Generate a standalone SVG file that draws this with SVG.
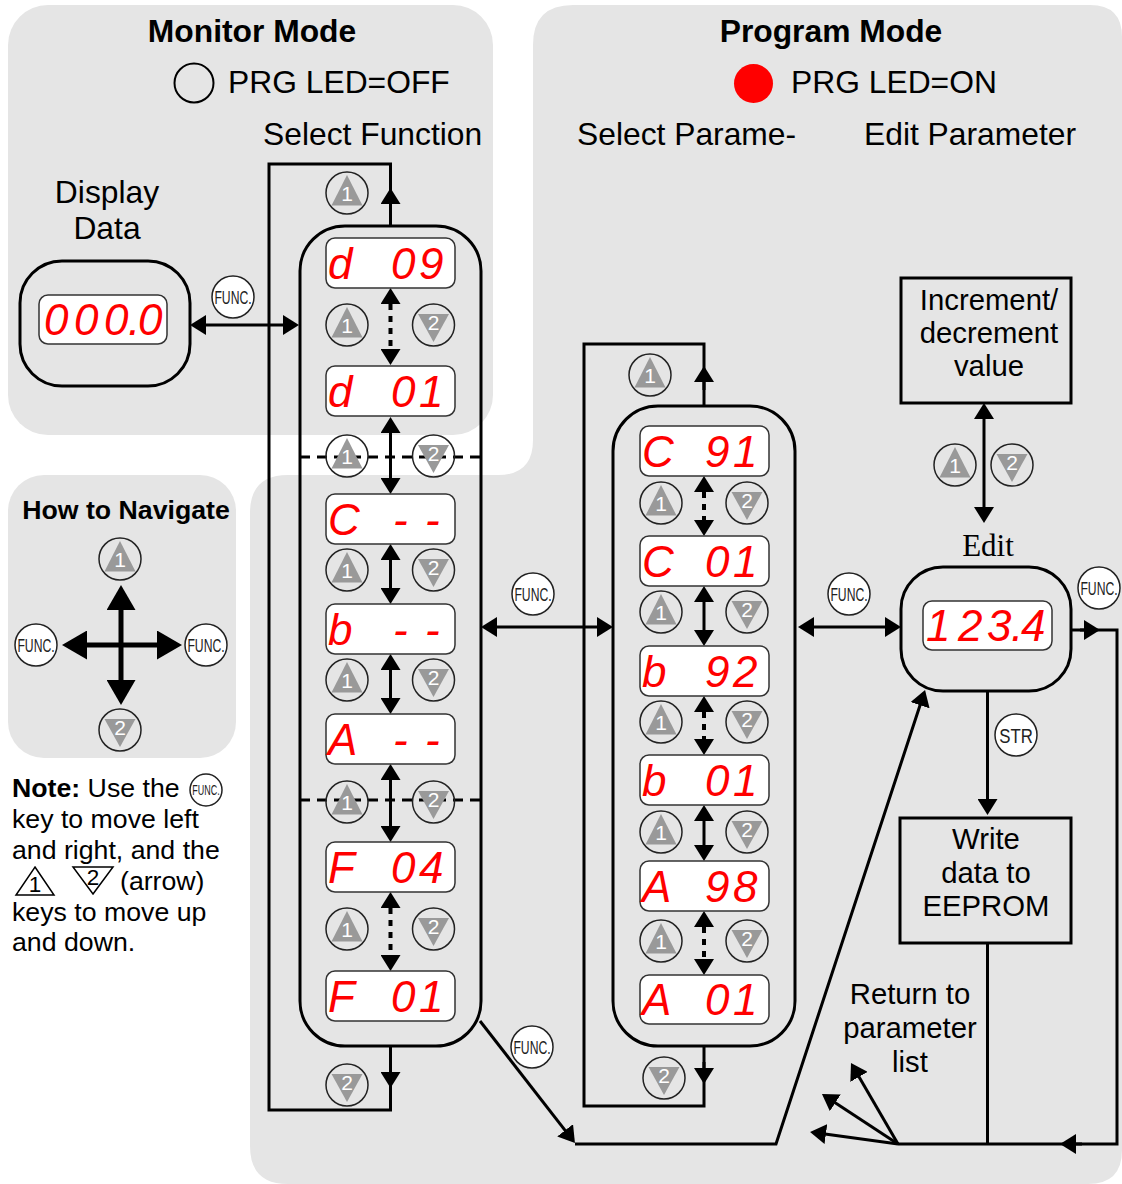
<svg xmlns="http://www.w3.org/2000/svg" width="1122" height="1184" viewBox="0 0 1122 1184">
<style>
text{font-family:"Liberation Sans",Arial,sans-serif;fill:#000}
.bg{fill:#e5e5e5}
.t32{font-size:31.8px}
.t29{font-size:29.3px;text-anchor:middle}
.b{font-weight:bold}
.n{font-size:26.7px}
.c{text-anchor:middle}
.box{fill:none;stroke:#000;stroke-width:3}
.sq{fill:none;stroke:#000;stroke-width:3}
.disp rect{fill:#fff;stroke:#333;stroke-width:1.5}
.disp text{font-size:44px;font-style:italic;fill:#f00}
.k circle{fill:none;stroke:#222;stroke-width:1.5}
.k path{fill:#999}
.k text{fill:#fff;font-size:21px;text-anchor:middle}
.f circle{fill:#fff;stroke:#222;stroke-width:1.5}
.f text{font-size:19px;fill:#222;text-anchor:middle}
.l{fill:none;stroke:#000;stroke-width:3}
.a{marker-end:url(#ah)}
.d{marker-start:url(#ah);marker-end:url(#ah)}
.dot{stroke-dasharray:6 6;stroke-width:4}
.dash{fill:none;stroke:#000;stroke-width:3;stroke-dasharray:10 7}
.nav{fill:none;stroke:#000;stroke-width:5;marker-end:url(#nh)}
</style>
<defs>
<marker id="ah" viewBox="0 0 16 20" refX="12" refY="10" markerWidth="16" markerHeight="20" markerUnits="userSpaceOnUse" orient="auto-start-reverse"><path d="M0,0L16,10L0,20Z"/></marker>
<marker id="nh" viewBox="0 0 25 29" refX="18" refY="14.5" markerWidth="25" markerHeight="29" markerUnits="userSpaceOnUse" orient="auto"><path d="M0,0L25,14.5L0,29Z"/></marker>
</defs>

<g id="backgrounds">
<rect class="bg" x="8" y="5" width="485" height="430" rx="40"/>
<rect class="bg" x="8" y="475" width="228" height="283" rx="36"/>
<path class="bg" d="M573,5H1090Q1122,5 1122,37V1150Q1122,1184 1088,1184H288Q250,1184 250,1146V513Q250,475 288,475H498Q533,475 533,440V45Q533,5 573,5Z"/>
</g>

<g id="titles">
<text class="t32 b" x="252" y="42" text-anchor="middle">Monitor Mode</text>
<text class="t32" x="228" y="93">PRG LED=OFF</text>
<text class="t32" x="263" y="145">Select Function</text>
<text class="t32 c" x="107" y="203">Display</text>
<text class="t32 c" x="107" y="239">Data</text>
<text class="t32 b" x="831" y="42" text-anchor="middle">Program Mode</text>
<text class="t32" x="791" y="93">PRG LED=ON</text>
<text class="t32" x="577" y="145">Select Parame-</text>
<text class="t32" x="864" y="145">Edit Parameter</text>
<text x="988" y="556" text-anchor="middle" style="font-family:'Liberation Serif',serif;font-size:31px">Edit</text>
</g>
<g id="led-off"><circle cx="194" cy="83" r="19.5" fill="none" stroke="#000" stroke-width="2"/></g>
<g id="led-on"><circle cx="753.5" cy="83.5" r="19.5" fill="#f00"/></g>

<g id="connectors">
<path class="l" d="M390.5,226V164H269V1110H390.5V1046"/>
<path class="l a" d="M390.5,210V192"/>
<path class="l a" d="M390.5,1066V1084"/>
<path class="l d dot" d="M390.5,292V361"/>
<path class="l d" d="M390.5,421V490"/>
<path class="l d" d="M390.5,548V600"/>
<path class="l d" d="M390.5,658V710"/>
<path class="l d" d="M390.5,768V838"/>
<path class="l d dot" d="M390.5,896V967"/>
<path class="l" d="M704,406V344H584V1106H704V1046"/>
<path class="l a" d="M704,390V370"/>
<path class="l a" d="M704,1062V1080"/>
<path class="l d dot" d="M704,480V532"/>
<path class="l d" d="M704,590V642"/>
<path class="l d dot" d="M704,700V751"/>
<path class="l d" d="M704,809V857"/>
<path class="l d dot" d="M704,915V971"/>
<path class="l d" d="M194,325H295"/>
<path class="l d" d="M485,627H609"/>
<path class="l d" d="M802,627H897"/>
<path class="l d" d="M984,407V519"/>
<path class="l a" d="M987.5,691V811"/>
<path class="l" d="M1071,630H1117V1144H898"/>
<path class="l a" d="M1080,630H1096"/>
<path class="l a" d="M1082,1144H1064"/>
<path class="l" d="M987.5,943V1144"/>
<path class="l a" d="M480,1021L572.5,1139.8"/>
<path class="l a" d="M575,1144H776L923.8,693.8"/>
<path class="l a" d="M898,1144L853,1066.5"/>
<path class="l a" d="M898,1144L825.3,1096.2"/>
<path class="l a" d="M898,1144L814,1132.5"/>
<path class="nav" d="M121,645V592"/>
<path class="nav" d="M121,645V698"/>
<path class="nav" d="M121,645H69"/>
<path class="nav" d="M121,645H175"/>
</g>

<g id="group-display-data"><rect class="box" x="20" y="261" width="170" height="125" rx="42"/></g>
<g id="group-functions"><rect class="box" x="300" y="226" width="181" height="820" rx="45"/></g>
<g id="group-parameters"><rect class="box" x="613" y="406" width="182" height="640" rx="45"/></g>
<g id="group-edit"><rect class="box" x="901" y="567" width="170" height="124" rx="42"/></g>
<path class="dash" d="M300,457H481"/>
<path class="dash" d="M300,800H481"/>

<g id="disp-000" class="disp"><rect x="39" y="295" width="128" height="49" rx="9"/><text y="335" x="44 74 104 128 138">000.0</text></g>
<g id="disp-d09" class="disp"><rect x="326" y="238" width="129" height="50" rx="9"/><text y="279" x="328 360 391 419">d 09</text></g>
<g id="disp-d01" class="disp"><rect x="326" y="366" width="129" height="50" rx="9"/><text y="407" x="328 360 391 419">d 01</text></g>
<g id="disp-c" class="disp"><rect x="326" y="494" width="129" height="50" rx="9"/><text y="535" x="328 360 393 410 425">C - -</text></g>
<g id="disp-b" class="disp"><rect x="326" y="604" width="129" height="50" rx="9"/><text y="645" x="328 360 393 410 425">b - -</text></g>
<g id="disp-a" class="disp"><rect x="326" y="714" width="129" height="50" rx="9"/><text y="755" x="328 360 393 410 425">A - -</text></g>
<g id="disp-f04" class="disp"><rect x="326" y="842" width="129" height="50" rx="9"/><text y="883" x="328 360 391 419">F 04</text></g>
<g id="disp-f01" class="disp"><rect x="326" y="971" width="129" height="50" rx="9"/><text y="1012" x="328 360 391 419">F 01</text></g>
<g id="disp-c91" class="disp"><rect x="640" y="426" width="129" height="50" rx="9"/><text y="467" x="642 674 705 733">C 91</text></g>
<g id="disp-c01" class="disp"><rect x="640" y="536" width="129" height="50" rx="9"/><text y="577" x="642 674 705 733">C 01</text></g>
<g id="disp-b92" class="disp"><rect x="640" y="646" width="129" height="50" rx="9"/><text y="687" x="642 674 705 733">b 92</text></g>
<g id="disp-b01" class="disp"><rect x="640" y="755" width="129" height="50" rx="9"/><text y="796" x="642 674 705 733">b 01</text></g>
<g id="disp-a98" class="disp"><rect x="640" y="861" width="129" height="50" rx="9"/><text y="902" x="642 674 705 733">A 98</text></g>
<g id="disp-a01" class="disp"><rect x="640" y="975" width="129" height="49" rx="9"/><text y="1015" x="642 674 705 733">A 01</text></g>
<g id="disp-edit" class="disp"><rect x="923" y="601" width="129" height="49" rx="9"/><text y="641" x="926 958 987 1011 1021">123.4</text></g>

<g id="box-increment"><rect class="sq" x="901" y="278" width="170" height="125"/><text class="t29" x="989" y="310">Increment/</text><text class="t29" x="989" y="343">decrement</text><text class="t29" x="989" y="376">value</text></g>
<g id="box-write"><rect class="sq" x="900" y="818" width="171" height="125"/><text class="t29" x="986" y="849">Write</text><text class="t29" x="986" y="883">data to</text><text class="t29" x="986" y="916">EEPROM</text></g>
<g id="label-return"><text class="t29" x="910" y="1004">Return to</text><text class="t29" x="910" y="1038">parameter</text><text class="t29" x="910" y="1072">list</text></g>

<g id="key-u0" class="k" transform="translate(347,193)"><circle r="21"/><path d="M0,-18L15.5,12.5H-15.5Z"/><text y="8">1</text></g>
<g id="key-u1" class="k" transform="translate(347,325)"><circle r="21"/><path d="M0,-18L15.5,12.5H-15.5Z"/><text y="8">1</text></g>
<g id="key-u2" class="k" transform="translate(347,456)"><circle r="21"/><path d="M0,-18L15.5,12.5H-15.5Z"/><text y="8">1</text></g>
<g id="key-u3" class="k" transform="translate(347,570)"><circle r="21"/><path d="M0,-18L15.5,12.5H-15.5Z"/><text y="8">1</text></g>
<g id="key-u4" class="k" transform="translate(347,680)"><circle r="21"/><path d="M0,-18L15.5,12.5H-15.5Z"/><text y="8">1</text></g>
<g id="key-u5" class="k" transform="translate(347,802)"><circle r="21"/><path d="M0,-18L15.5,12.5H-15.5Z"/><text y="8">1</text></g>
<g id="key-u6" class="k" transform="translate(347,929)"><circle r="21"/><path d="M0,-18L15.5,12.5H-15.5Z"/><text y="8">1</text></g>
<g id="key-d1" class="k" transform="translate(433.500,325)"><circle r="21"/><path d="M0,17L15.5,-11H-15.5Z"/><text y="5">2</text></g>
<g id="key-d2" class="k" transform="translate(433.500,456)"><circle r="21"/><path d="M0,17L15.5,-11H-15.5Z"/><text y="5">2</text></g>
<g id="key-d3" class="k" transform="translate(433.500,570)"><circle r="21"/><path d="M0,17L15.5,-11H-15.5Z"/><text y="5">2</text></g>
<g id="key-d4" class="k" transform="translate(433.500,680)"><circle r="21"/><path d="M0,17L15.5,-11H-15.5Z"/><text y="5">2</text></g>
<g id="key-d5" class="k" transform="translate(433.500,802)"><circle r="21"/><path d="M0,17L15.5,-11H-15.5Z"/><text y="5">2</text></g>
<g id="key-d6" class="k" transform="translate(433.500,929)"><circle r="21"/><path d="M0,17L15.5,-11H-15.5Z"/><text y="5">2</text></g>
<g id="key-d7" class="k" transform="translate(347,1085)"><circle r="21"/><path d="M0,17L15.5,-11H-15.5Z"/><text y="5">2</text></g>
<g id="key-r0" class="k" transform="translate(650,375)"><circle r="21"/><path d="M0,-18L15.5,12.5H-15.5Z"/><text y="8">1</text></g>
<g id="key-r1" class="k" transform="translate(661,503)"><circle r="21"/><path d="M0,-18L15.5,12.5H-15.5Z"/><text y="8">1</text></g>
<g id="key-r2" class="k" transform="translate(661,612)"><circle r="21"/><path d="M0,-18L15.5,12.5H-15.5Z"/><text y="8">1</text></g>
<g id="key-r3" class="k" transform="translate(661,722)"><circle r="21"/><path d="M0,-18L15.5,12.5H-15.5Z"/><text y="8">1</text></g>
<g id="key-r4" class="k" transform="translate(661,832)"><circle r="21"/><path d="M0,-18L15.5,12.5H-15.5Z"/><text y="8">1</text></g>
<g id="key-r5" class="k" transform="translate(661,941)"><circle r="21"/><path d="M0,-18L15.5,12.5H-15.5Z"/><text y="8">1</text></g>
<g id="key-s1" class="k" transform="translate(747,503)"><circle r="21"/><path d="M0,17L15.5,-11H-15.5Z"/><text y="5">2</text></g>
<g id="key-s2" class="k" transform="translate(747,612)"><circle r="21"/><path d="M0,17L15.5,-11H-15.5Z"/><text y="5">2</text></g>
<g id="key-s3" class="k" transform="translate(747,722)"><circle r="21"/><path d="M0,17L15.5,-11H-15.5Z"/><text y="5">2</text></g>
<g id="key-s4" class="k" transform="translate(747,832)"><circle r="21"/><path d="M0,17L15.5,-11H-15.5Z"/><text y="5">2</text></g>
<g id="key-s5" class="k" transform="translate(747,941)"><circle r="21"/><path d="M0,17L15.5,-11H-15.5Z"/><text y="5">2</text></g>
<g id="key-s6" class="k" transform="translate(664,1078)"><circle r="21"/><path d="M0,17L15.5,-11H-15.5Z"/><text y="5">2</text></g>
<g id="key-inc" class="k" transform="translate(955,465)"><circle r="21"/><path d="M0,-18L15.5,12.5H-15.5Z"/><text y="8">1</text></g>
<g id="key-dec" class="k" transform="translate(1012,465)"><circle r="21"/><path d="M0,17L15.5,-11H-15.5Z"/><text y="5">2</text></g>
<g id="key-nav-up" class="k" transform="translate(120,559)"><circle r="21"/><path d="M0,-18L15.5,12.5H-15.5Z"/><text y="8">1</text></g>
<g id="key-nav-down" class="k" transform="translate(120,730)"><circle r="21"/><path d="M0,17L15.5,-11H-15.5Z"/><text y="5">2</text></g>

<g id="func-1" class="f" transform="translate(233,297)"><circle r="21"/><text y="7" transform="scale(.64,1)">FUNC.</text></g>
<g id="func-2" class="f" transform="translate(533,594)"><circle r="21"/><text y="7" transform="scale(.64,1)">FUNC.</text></g>
<g id="func-3" class="f" transform="translate(849,594)"><circle r="21"/><text y="7" transform="scale(.64,1)">FUNC.</text></g>
<g id="func-4" class="f" transform="translate(1099,588)"><circle r="21"/><text y="7" transform="scale(.64,1)">FUNC.</text></g>
<g id="func-5" class="f" transform="translate(532,1047)"><circle r="21"/><text y="7" transform="scale(.64,1)">FUNC.</text></g>
<g id="func-nav-left" class="f" transform="translate(36,645)"><circle r="21"/><text y="7" transform="scale(.64,1)">FUNC.</text></g>
<g id="func-nav-right" class="f" transform="translate(206,645)"><circle r="21"/><text y="7" transform="scale(.64,1)">FUNC.</text></g>
<g id="key-str" class="f" transform="translate(1016,735)"><circle r="21"/><text y="7.500" style="font-size:21px" transform="scale(.8,1)">STR</text></g>

<g id="navigate"><text class="n b" x="126" y="519" text-anchor="middle">How to Navigate</text></g>

<g id="note">
<text class="n" x="12" y="797"><tspan class="b">Note:</tspan> Use the</text>
<g class="f" transform="translate(206,790)"><circle r="16"/><text y="5" style="font-size:14px" transform="scale(.64,1)">FUNC.</text></g>
<text class="n" x="12" y="828">key to move left</text>
<text class="n" x="12" y="859">and right, and the</text>
<path d="M35,867L54,895H16Z" fill="none" stroke="#000" stroke-width="1.5"/>
<text x="35" y="892" text-anchor="middle" style="font-size:22.5px">1</text>
<path d="M93,894L113,867H73Z" fill="none" stroke="#000" stroke-width="1.5"/>
<text x="93" y="885" text-anchor="middle" style="font-size:22.5px">2</text>
<text class="n" x="120" y="890">(arrow)</text>
<text class="n" x="12" y="921">keys to move up</text>
<text class="n" x="12" y="951">and down.</text>
</g>
</svg>
